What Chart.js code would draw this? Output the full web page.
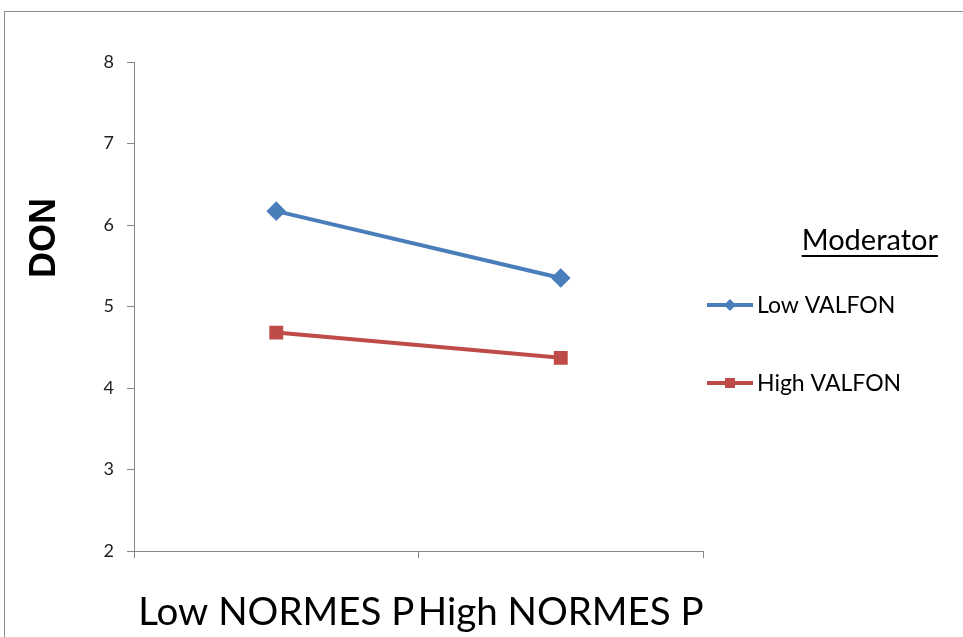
<!DOCTYPE html>
<html>
<head>
<meta charset="utf-8">
<script src="https://cdn.jsdelivr.net/npm/chart.js@4"></script>
<style>
  html, body { margin: 0; padding: 0; background: #fff; }
  #wrap { width: 963px; height: 637px; position: relative; }
</style>
</head>
<body>
<div id="wrap"><canvas id="chart" width="963" height="637"></canvas></div>
<script>
// data
const categories = ['Low NORMES P', 'High NORMES P'];
const lowValfon = [6.17, 5.35];
const highValfon = [4.68, 4.37];
const seriesNames = ['Low VALFON', 'High VALFON'];
const yTicks = [2, 3, 4, 5, 6, 7, 8];

const BLUE = '#4a7ebb';
const RED = '#be4b48';
const AXIS = '#868686';
const FONT = 'Lato, "Open Sans", sans-serif';

// frame around the whole chart + the rotated "DON" title
const framePlugin = {
  id: 'frame',
  beforeDraw(chart) {
    const ctx = chart.ctx;
    ctx.save();
    ctx.fillStyle = '#fff';
    ctx.fillRect(0, 0, chart.width, chart.height);
    ctx.strokeStyle = '#8c8c8c';
    ctx.lineWidth = 1;
    ctx.strokeRect(4.5, 11.5, 1200, 800);
    ctx.restore();
  },
  afterDraw(chart) {
    const ctx = chart.ctx;
    ctx.save();
    ctx.translate(44, 238);
    ctx.rotate(-Math.PI / 2);
    ctx.fillStyle = '#000';
    ctx.font = 'bold 36px "Liberation Sans", Arial, sans-serif';
    ctx.textAlign = 'center';
    ctx.textBaseline = 'middle';
    ctx.fillText('DON', 0, 1);
    ctx.restore();
  }
};

// legend on the right with underlined "Moderator" title
const sideLegend = {
  id: 'sideLegend',
  afterDraw(chart) {
    const ctx = chart.ctx;
    ctx.save();
    ctx.fillStyle = '#000';
    ctx.font = '29px ' + FONT;
    ctx.textBaseline = 'alphabetic';
    ctx.textAlign = 'right';
    ctx.fillText('Moderator', 938, 250);
    const w = ctx.measureText('Moderator').width;
    ctx.fillRect(938 - w, 255, w, 2);

    const rows = [305, 383];
    chart.data.datasets.forEach((ds, i) => {
      const y = rows[i];
      ctx.strokeStyle = ds.borderColor;
      ctx.lineWidth = ds.borderWidth;
      ctx.beginPath();
      ctx.moveTo(707, y);
      ctx.lineTo(753, y);
      ctx.stroke();
      ctx.fillStyle = ds.pointBackgroundColor;
      if (ds.pointStyle === 'rectRot') {
        ctx.beginPath();
        ctx.moveTo(730, y - 6);
        ctx.lineTo(736, y);
        ctx.lineTo(730, y + 6);
        ctx.lineTo(724, y);
        ctx.closePath();
        ctx.fill();
      } else {
        ctx.fillRect(725, y - 5, 10, 10);
      }
      ctx.fillStyle = '#000';
      ctx.textAlign = 'left';
      ctx.textBaseline = 'alphabetic';
      ctx.font = '23px ' + FONT;
      ctx.fillText(ds.label, 757, y + 8);
    });
    ctx.restore();
  }
};

new Chart(document.getElementById('chart'), {
  type: 'line',
  data: {
    labels: categories,
    datasets: [
      {
        label: seriesNames[0],
        data: lowValfon,
        borderColor: BLUE,
        backgroundColor: BLUE,
        pointBackgroundColor: BLUE,
        pointBorderColor: BLUE,
        borderWidth: 4,
        pointStyle: 'rectRot',
        pointRadius: 7,
        tension: 0
      },
      {
        label: seriesNames[1],
        data: highValfon,
        borderColor: RED,
        backgroundColor: RED,
        pointBackgroundColor: RED,
        pointBorderColor: RED,
        borderWidth: 4,
        pointStyle: 'rect',
        pointRadius: 7,
        tension: 0
      }
    ]
  },
  options: {
    responsive: false,
    animation: false,
    devicePixelRatio: 1,
    layout: { padding: { top: 62, right: 260, bottom: 0, left: 0 } },
    plugins: {
      legend: { display: false },
      tooltip: { enabled: false }
    },
    scales: {
      x: {
        offset: true,
        grid: { offset: true, drawOnChartArea: false, drawTicks: true, tickLength: 7, color: AXIS },
        border: { display: true, color: AXIS, width: 1 },
        ticks: {
          autoSkip: false,
          maxRotation: 0,
          padding: 31,
          color: '#000',
          font: { family: FONT, size: 38.5 }
        },
        afterFit(scale) { scale.height = 86; }
      },
      y: {
        min: 2,
        max: 8,
        afterBuildTicks(scale) { scale.ticks = yTicks.map(v => ({ value: v })); },
        grid: { drawOnChartArea: false, drawTicks: true, tickLength: 7, color: AXIS },
        border: { display: true, color: AXIS, width: 1 },
        ticks: {
          padding: 13,
          color: '#222',
          font: { family: FONT, size: 18 }
        },
        afterFit(scale) { scale.width = 134; }
      }
    }
  },
  plugins: [framePlugin, sideLegend]
});
</script>
</body>
</html>
